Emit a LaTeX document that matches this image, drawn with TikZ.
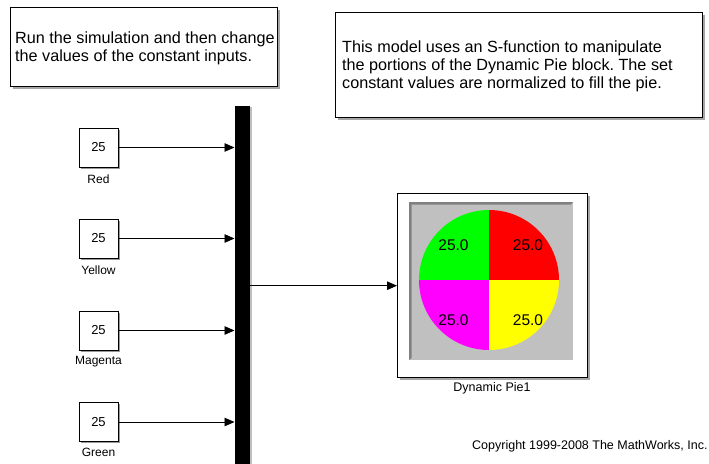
\documentclass[tikz,border=0pt]{standalone}
\usepackage{fontspec}
\setmainfont{Liberation Sans}
\usetikzlibrary{arrows.meta,shadows}
\definecolor{piegray}{HTML}{C0C0C0}
\definecolor{bevel}{HTML}{808080}
\definecolor{piered}{HTML}{FF0000}
\definecolor{piegreen}{HTML}{00FF00}
\definecolor{piemagenta}{HTML}{FF00FF}
\definecolor{pieyellow}{HTML}{FFFF00}
\frenchspacing
\begin{document}
\begin{tikzpicture}[x=1pt,y=-1pt,
  note/.style={draw=black,line width=1.3pt,fill=white,anchor=north west,inner sep=0pt,
    drop shadow={shadow xshift=2.5pt,shadow yshift=-2.5pt,fill=black,opacity=0.35}},
  notetext/.style={anchor=base west,inner sep=0pt,font=\fontsize{16.2}{18}\selectfont},
  const/.style={draw=black,line width=1pt,fill=white,minimum width=39pt,minimum height=39pt,inner sep=0pt,
    font=\fontsize{13}{15}\selectfont,
    drop shadow={shadow xshift=1.5pt,shadow yshift=-1.5pt,fill=black,opacity=0.4}},
  lbl/.style={inner sep=0pt,font=\fontsize{12}{14}\selectfont},
  arr/.style={line width=0.9pt,-{Triangle[length=10pt,width=8.5pt]}},
  pietext/.style={inner sep=0pt,font=\fontsize{15.5}{17}\selectfont}]
\useasboundingbox[fill=white] (0,0) rectangle (709,463);

% note boxes
\node[note,minimum width=267pt,minimum height=79pt] (note1) at (10,7) {};
\node[notetext] (n1a) at (15,43) {Run the simulation and then change};
\node[notetext] (n1b) at (15,61) {the values of the constant inputs.};

\node[note,minimum width=367pt,minimum height=105pt] (note2) at (335,12) {};
\node[notetext] (n2a) at (342,52) {This model uses an S-function to manipulate};
\node[notetext] (n2b) at (342,70) {the portions of the Dynamic Pie block. The set};
\node[notetext] (n2c) at (342,88) {constant values are normalized to fill the pie.};

% constant blocks
\node[const] (red) at (98.5,147.5) {25};
\node[lbl] (redl) at (98.5,179) {Red};
\node[const] (yellow) at (98.5,238.5) {25};
\node[lbl] (yellowl) at (98.5,270) {Yellow};
\node[const] (magenta) at (98.5,330.5) {25};
\node[lbl] (magental) at (98.5,362) {Magenta};
\node[const] (green) at (98.5,422) {25};
\node[lbl] (greenl) at (98.5,452) {Green};

% mux bar
\node[fill=black,anchor=north west,inner sep=0pt,minimum width=15pt,minimum height=370pt,
  drop shadow={shadow xshift=2pt,shadow yshift=-1pt,fill=black,opacity=0.25}] (mux) at (234.5,106) {};

\draw[arr] (red.east) -- (red.east -| mux.west);
\draw[arr] (yellow.east) -- (yellow.east -| mux.west);
\draw[arr] (magenta.east) -- (magenta.east -| mux.west);
\draw[arr] (green.east) -- (green.east -| mux.west);

% dynamic pie block
\node[draw=black,line width=1.4pt,fill=white,anchor=north west,inner sep=0pt,
  minimum width=190pt,minimum height=184pt,
  drop shadow={shadow xshift=2.5pt,shadow yshift=-2.5pt,fill=black,opacity=0.35}] (pie) at (397,193) {};
\node[lbl,font=\fontsize{12.5}{14}\selectfont] (piel) at (492,388) {Dynamic Pie1};
\draw[arr] (mux.east |- pie.west) -- (pie.west);

\fill[piegray] (409,202) rectangle (573,360);
\fill[bevel] (409,202) -- (573,202) -- (571,204.5) -- (411.5,204.5) -- (411.5,358) -- (409,360) -- cycle;

\coordinate (pc) at (489,280);
\fill[piered] (pc) -- ++(0pt,70pt) arc[start angle=90,end angle=0,radius=70pt] -- cycle;
\fill[piegreen] (pc) -- ++(0pt,70pt) arc[start angle=90,end angle=180,radius=70pt] -- cycle;
\fill[piemagenta] (pc) -- ++(-70pt,0pt) arc[start angle=180,end angle=270,radius=70pt] -- cycle;
\fill[pieyellow] (pc) -- ++(0pt,-70pt) arc[start angle=270,end angle=360,radius=70pt] -- cycle;

\node[pietext] (p1) at (453.5,245) {25.0};
\node[pietext] (p2) at (528,245) {25.0};
\node[pietext] (p3) at (453.5,320) {25.0};
\node[pietext] (p4) at (528,320) {25.0};

\node[lbl,anchor=west,font=\fontsize{12.5}{14}\selectfont] (copy) at (472,446) {Copyright 1999-2008 The MathWorks, Inc.};
\end{tikzpicture}
\end{document}
